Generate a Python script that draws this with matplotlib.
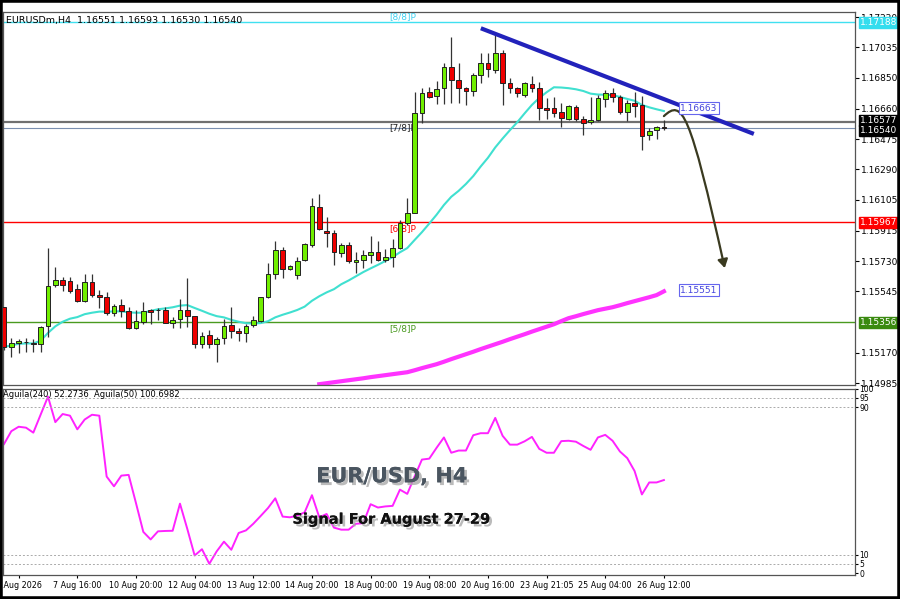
import matplotlib
matplotlib.use("Agg")
import matplotlib.pyplot as plt
import numpy as np
import pandas as pd
from matplotlib.path import Path
from matplotlib.patches import FancyArrowPatch
import matplotlib.patheffects as pe

opens = [1.15448,1.15204,1.15228,1.15234,1.15228,1.15222,1.15332,1.15583,1.15613,1.15607,
1.15558,1.15485,1.15601,1.15522,1.15509,1.15412,1.15460,1.15424,1.15320,1.15357,
1.15430,1.15430,1.15430,1.15350,1.15375,1.15430,1.15393,1.15222,1.15277,1.15222,
1.15259,1.15338,1.15302,1.15289,1.15338,1.15363,1.15509,1.15650,1.15796,1.15680,
1.15644,1.15735,1.15827,1.16059,1.15913,1.15900,1.15778,1.15827,1.15723,1.15735,
1.15766,1.15784,1.15735,1.15754,1.15809,1.15961,1.16023,1.16634,1.16762,1.16737,
1.16786,1.16915,1.16835,1.16786,1.16768,1.16866,1.16939,1.16896,1.17000,1.16817,
1.16786,1.16744,1.16811,1.16786,1.16664,1.16664,1.16640,1.16597,1.16670,1.16597,
1.16579,1.16591,1.16719,1.16756,1.16731,1.16640,1.16695,1.16682,1.16499,1.16530,
1.16551]
highs = [1.15448,1.15259,1.15253,1.15259,1.15253,1.15332,1.15809,1.15693,1.15632,1.15632,
1.15589,1.15650,1.15650,1.15552,1.15540,1.15467,1.15497,1.15448,1.15430,1.15479,
1.15436,1.15442,1.15448,1.15387,1.15497,1.15626,1.15393,1.15295,1.15308,1.15265,
1.15375,1.15448,1.15320,1.15344,1.15393,1.15509,1.15717,1.15851,1.15815,1.15705,
1.15754,1.15839,1.16114,1.16139,1.15998,1.15919,1.15839,1.15845,1.15784,1.15796,
1.15882,1.15851,1.15803,1.15864,1.15980,1.16114,1.16762,1.16786,1.16792,1.16829,
1.16939,1.17098,1.16939,1.16792,1.16878,1.17000,1.17000,1.17110,1.17018,1.16847,
1.16792,1.16823,1.16860,1.16823,1.16725,1.16731,1.16695,1.16682,1.16682,1.16615,
1.16731,1.16744,1.16774,1.16786,1.16744,1.16713,1.16762,1.16737,1.16542,1.16554,
1.16593]
lows = [1.15185,1.15143,1.15167,1.15173,1.15173,1.15173,1.15265,1.15570,1.15546,1.15534,
1.15479,1.15479,1.15509,1.15442,1.15399,1.15393,1.15387,1.15314,1.15314,1.15344,
1.15344,1.15369,1.15350,1.15320,1.15320,1.15326,1.15198,1.15198,1.15198,1.15112,
1.15222,1.15259,1.15240,1.15234,1.15326,1.15357,1.15503,1.15619,1.15626,1.15674,
1.15619,1.15729,1.15815,1.15919,1.15815,1.15705,1.15754,1.15717,1.15656,1.15687,
1.15717,1.15729,1.15723,1.15693,1.15803,1.15949,1.16023,1.16572,1.16725,1.16689,
1.16689,1.16695,1.16695,1.16682,1.16737,1.16817,1.16854,1.16878,1.16682,1.16756,
1.16731,1.16731,1.16762,1.16591,1.16597,1.16609,1.16548,1.16591,1.16585,1.16499,
1.16566,1.16585,1.16670,1.16701,1.16627,1.16585,1.16609,1.16407,1.16469,1.16475,
1.16530]
closes = [1.15204,1.15228,1.15240,1.15236,1.15226,1.15326,1.15577,1.15613,1.15583,1.15546,
1.15485,1.15601,1.15522,1.15509,1.15412,1.15454,1.15424,1.15320,1.15363,1.15424,
1.15418,1.15428,1.15350,1.15369,1.15430,1.15393,1.15222,1.15271,1.15222,1.15253,
1.15332,1.15302,1.15289,1.15332,1.15369,1.15509,1.15650,1.15796,1.15680,1.15699,
1.15729,1.15833,1.16065,1.15925,1.15900,1.15784,1.15827,1.15729,1.15735,1.15766,
1.15784,1.15735,1.15754,1.15809,1.15961,1.16023,1.16634,1.16756,1.16731,1.16780,
1.16915,1.16835,1.16786,1.16768,1.16866,1.16939,1.16902,1.17000,1.16817,1.16786,
1.16756,1.16817,1.16786,1.16664,1.16652,1.16634,1.16603,1.16676,1.16597,1.16572,
1.16591,1.16725,1.16756,1.16731,1.16640,1.16695,1.16676,1.16493,1.16524,1.16548,
1.16540]
slow_ma_start = 44
slow_ma = [1.14978,1.14984,1.14990,1.14996,1.15002,1.15008,1.15014,1.15021,1.15027,1.15033,
1.15039,1.15045,1.15051,1.15063,1.15076,1.15088,1.15100,1.15115,1.15131,1.15146,
1.15161,1.15176,1.15192,1.15207,1.15222,1.15237,1.15253,1.15268,1.15283,1.15299,
1.15314,1.15329,1.15344,1.15363,1.15381,1.15393,1.15406,1.15418,1.15430,1.15439,
1.15448,1.15460,1.15473,1.15485,1.15497,1.15509,1.15522,1.15545]
osc = [70,77,79.4,78.9,76.2,86,95.7,81.9,86.3,85.4,78,83.3,85.9,85.4,52.4,47.1,52.9,53.3,38,22.4,
18.3,22.7,22.9,23,37.7,24,9.6,13,5.1,11.8,17.1,12.7,21.8,23.2,26.8,31,35.3,40.6,30.7,30.3,
31.2,33,42.3,30.3,32.1,24.7,23.6,23.6,26.8,27.1,37.4,35.6,36.2,36.5,45.3,43,52.4,61.6,62.1,68,
73.6,65.3,66.5,66.5,74.8,75.9,75.9,84.2,74.5,69.7,69.7,71.5,73.9,67.4,65.3,65.3,71.6,71.8,71.3,69,
66.9,73.6,75,71.8,66,62.4,55.4,42.7,49.2,49.2,50.5]

levels = {"8/8": 1.17188, "6/8": 1.15967, "5/8": 1.15356}
cur_hi, cur_last = 1.16577, 1.16540
trend = [(66.3, 1.17147), (103.0, 1.16511)]
ma_label, slow_label = 1.16663, 1.15551
date_labels = ["6 Aug 2026", "7 Aug 16:00", "10 Aug 20:00", "12 Aug 04:00", "13 Aug 12:00",
               "14 Aug 20:00", "18 Aug 00:00", "19 Aug 08:00", "20 Aug 16:00", "23 Aug 21:05",
               "25 Aug 04:00", "26 Aug 12:00"]
date_pos = [3, 11, 19, 27, 35, 43, 51, 59, 67, 75, 83, 91]
price_ticks = [1.17220, 1.17035, 1.16850, 1.16660, 1.16475, 1.16290, 1.16105, 1.15915,
               1.15730, 1.15545, 1.15170, 1.14985]

n = len(closes)
idx = np.arange(1, n + 1)
fast_ma = pd.Series(closes).rolling(20, min_periods=1).mean().values

fig = plt.figure(figsize=(9, 5.99), dpi=100)
fig.patch.set_facecolor("white")
ax = fig.add_axes([0.0033, 0.357, 0.947, 0.623])
ax2 = fig.add_axes([0.0033, 0.04, 0.947, 0.311], sharex=ax)

ax.set_xlim(0.86, 117.1)
ax.set_ylim(1.14972, 1.17251)

for lbl, col in [("8/8", "#40e0f0"), ("6/8", "red"), ("5/8", "#4a9a20")]:
    ax.axhline(levels[lbl], color=col, lw=1)
ax.axhline(cur_hi, color="#707070", lw=1.6)
ax.axhline(cur_last, color="#7a8fb0", lw=0.8)

ax.text(53.5, levels["8/8"] + 0.0001, "[8/8]P", color="#40d0f0", fontsize=6.5, va="bottom", ha="left")
ax.text(53.5, 1.16515, "[7/8]P", color="#222", fontsize=6.5, va="bottom", ha="left")
ax.text(53.5, levels["6/8"] - 0.0001, "[6/8]P", color="red", fontsize=6.5, va="top", ha="left")
ax.text(53.5, levels["5/8"] - 0.0001, "[5/8]P", color="#4a9a20", fontsize=6.5, va="top", ha="left")

ax.plot(idx, fast_ma, color="#40e0d0", lw=1.5, zorder=2)
ax.plot(np.arange(slow_ma_start, slow_ma_start + len(slow_ma)), slow_ma, color="#ff33ff", lw=3, zorder=2)

o = np.array(opens); c = np.array(closes)
bull = c >= o
cols = np.where(bull, "#70ee00", "#ee0000")
ax.vlines(idx, lows, highs, color="#333", lw=0.9, zorder=3)
bot = np.minimum(o, c); hgt = np.maximum(np.abs(c - o), 0.00003)
ax.bar(idx, hgt, bottom=bot, width=0.65, color=cols, edgecolor="#222", lw=0.7, zorder=4)

ax.plot([trend[0][0], trend[1][0]], [trend[0][1], trend[1][1]], color="#2222bb", lw=3, zorder=5)

verts = [(91, 1.16615), (93.5, 1.16720), (94.5, 1.16650), (99.3, 1.15687)]
curve = Path(verts, [Path.MOVETO, Path.CURVE4, Path.CURVE4, Path.CURVE4])
ax.add_patch(FancyArrowPatch(path=curve, arrowstyle="-|>,head_length=5,head_width=3",
                             color="#3a3a20", lw=1.6, zorder=6))

ax.text(93.2, ma_label, "1.16663", fontsize=6.5, color="#4444dd", va="center", ha="left",
        bbox=dict(boxstyle="square,pad=0.15", fc="white", ec="#6666ee", lw=0.8), zorder=7)
ax.text(93.2, slow_label, "1.15551", fontsize=6.5, color="#4444dd", va="center", ha="left",
        bbox=dict(boxstyle="square,pad=0.15", fc="white", ec="#6666ee", lw=0.8), zorder=7)

ax.yaxis.tick_right()
ax.set_yticks(price_ticks)
ax.set_yticklabels([f"{p:.5f}" for p in price_ticks], fontsize=6.5)
ax.tick_params(axis="y", length=3, pad=1)
ax.tick_params(axis="x", bottom=False, labelbottom=False)

tr = ax.get_yaxis_transform()
for val, fc in [(levels["8/8"], "#33ddee"), (cur_hi, "black"), (cur_last, "black"),
                (levels["6/8"], "red"), (levels["5/8"], "#3a8a10")]:
    off = 0.00012 if val == cur_hi else (-0.00012 if val == cur_last else 0)
    ax.text(1.006, val + off, f"{val:.5f}", transform=tr, fontsize=6.5, color="white",
            va="center", ha="left", bbox=dict(boxstyle="square,pad=0.12", fc=fc, ec=fc), clip_on=False, zorder=8)

ax.text(0.003, 0.99, "EURUSDm,H4  1.16551 1.16593 1.16530 1.16540", transform=ax.transAxes,
        fontsize=6.8, va="top", ha="left")

ax2.set_ylim(-1, 99.5)
ax2.plot(idx, osc, color="#ff22ff", lw=1.4)
for lv in [95, 90, 10, 5]:
    ax2.axhline(lv, color="#aaaaaa", lw=0.7, ls=(0, (2, 2)))
ax2.yaxis.tick_right()
ax2.set_yticks([100, 95, 90, 10, 5, 0])
ax2.set_yticklabels(["100", "95", "90", "10", "5", "0"], fontsize=5.5)
ax2.tick_params(axis="y", length=2, pad=1)
ax2.set_xticks(date_pos)
ax2.set_xticklabels(date_labels, fontsize=5.8)
ax2.tick_params(axis="x", length=2, pad=2)
ax2.text(0.0, 0.995, "Aguila(240) 52.2736  Aguila(50) 100.6982", transform=ax2.transAxes,
         fontsize=6, va="top", ha="left")

shadow = [pe.withSimplePatchShadow(offset=(2, -2), shadow_rgbFace="#aaa", alpha=0.8), pe.Normal()]
ax2.text(0.456, 0.53, "EUR/USD, H4", transform=ax2.transAxes, fontsize=15, fontweight="bold",
         color="#4a5560", ha="center", va="center", path_effects=shadow)
ax2.text(0.456, 0.30, "Signal For August 27-29", transform=ax2.transAxes, fontsize=10.5,
         fontweight="bold", color="#111", ha="center", va="center", path_effects=shadow)

for a in (ax, ax2):
    for s in a.spines.values():
        s.set_color("#555"); s.set_linewidth(0.9)

fig.add_artist(plt.Rectangle((0, 0), 1, 1, transform=fig.transFigure, fill=False, ec="black", lw=4))
fig.savefig("out.png", dpi=100)
